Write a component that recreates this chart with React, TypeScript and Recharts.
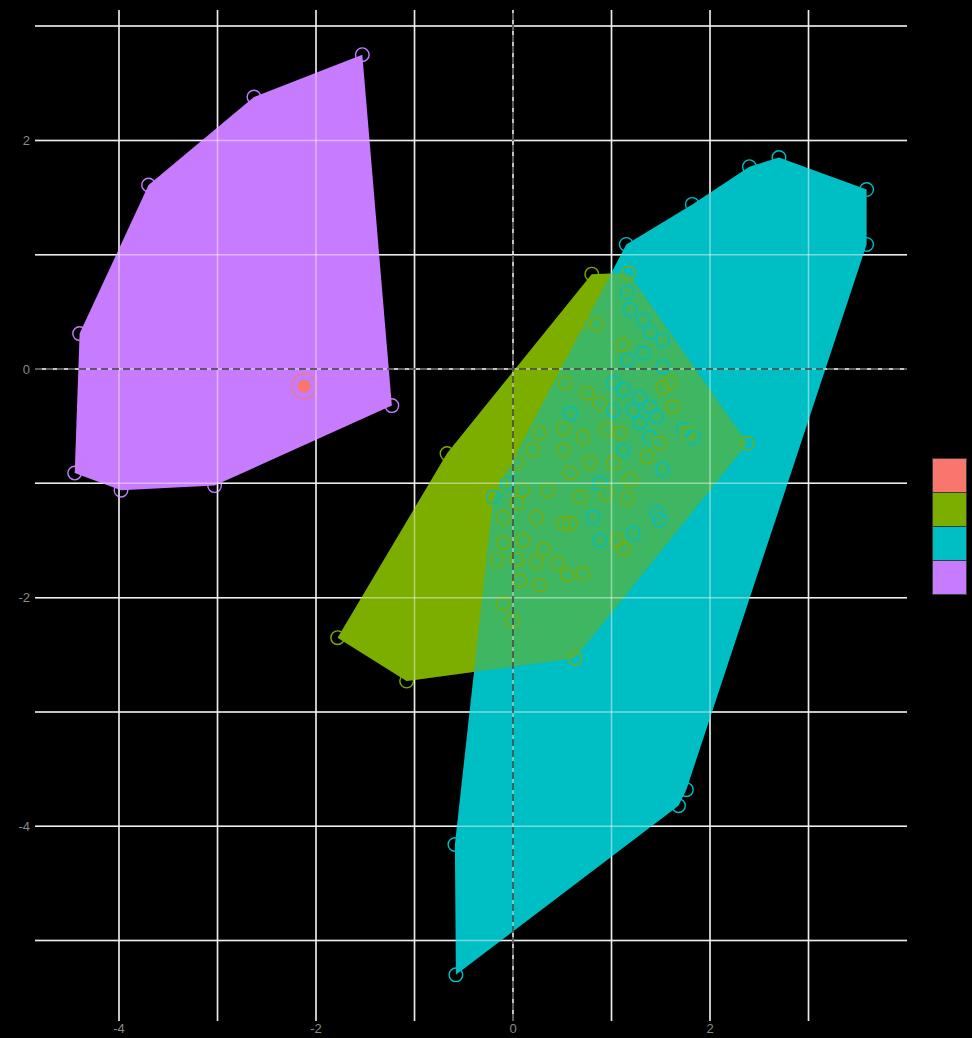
import React from "react";
import {
  ScatterChart,
  Scatter,
  XAxis,
  YAxis,
  CartesianGrid,
  ReferenceLine,
} from "recharts";

type Pt = { x: number; y: number };

// cluster colours (ggplot hue palette)
const clusterColors = ["#F8766D", "#7CAE00", "#00BFC4", "#C77CFF"];

const xTicks = [-4, -3, -2, -1, 0, 1, 2, 3];
const yTicks = [-5, -4, -3, -2, -1, 0, 1, 2, 3];

// cluster 1: a single point
const redPoints: Pt[] = [{ x: -2.12, y: -0.15 }];

// cluster 4 hull (in drawing order) and inner points
const purpleHull: Pt[] = [
  { x: -1.53, y: 2.75 },
  { x: -2.63, y: 2.38 },
  { x: -3.7, y: 1.61 },
  { x: -4.4, y: 0.31 },
  { x: -4.45, y: -0.91 },
  { x: -3.98, y: -1.06 },
  { x: -3.03, y: -1.02 },
  { x: -1.23, y: -0.32 },
];
const purpleInner: Pt[] = [
  { x: -3.2, y: 0.45 },
  { x: -2.6, y: 1.25 },
  { x: -1.9, y: 0.6 },
  { x: -3.6, y: -0.4 },
];

// cluster 2
const greenHull: Pt[] = [
  { x: 0.8, y: 0.83 },
  { x: 1.17, y: 0.84 },
  { x: 2.38, y: -0.65 },
  { x: 0.63, y: -2.53 },
  { x: -1.08, y: -2.73 },
  { x: -1.78, y: -2.35 },
  { x: -0.67, y: -0.74 },
];
const greenInner: Pt[] = [
  { x: 0.53, y: -0.12 }, { x: 0.75, y: -0.21 }, { x: 0.88, y: -0.3 },
  { x: 1.62, y: -0.33 }, { x: 1.52, y: -0.16 }, { x: 1.59, y: -0.12 },
  { x: 0.51, y: -0.52 }, { x: 0.71, y: -0.6 }, { x: 0.95, y: -0.53 },
  { x: 1.09, y: -0.56 }, { x: 1.36, y: -0.77 }, { x: 1.49, y: -0.65 },
  { x: 1.77, y: -0.56 }, { x: 0.27, y: -0.56 }, { x: 0.2, y: -0.71 },
  { x: 0.04, y: -0.82 }, { x: 0.51, y: -0.71 }, { x: 0.78, y: -0.82 },
  { x: 1.02, y: -0.82 }, { x: 1.19, y: -0.97 }, { x: 0.58, y: -0.91 },
  { x: 0.35, y: -1.06 }, { x: 0.1, y: -1.06 }, { x: -0.13, y: -1.0 },
  { x: 0.04, y: -1.17 }, { x: 0.24, y: -1.3 }, { x: 0.51, y: -1.35 },
  { x: 0.68, y: -1.12 }, { x: 0.95, y: -1.09 }, { x: 1.16, y: -1.13 },
  { x: -0.1, y: -1.3 }, { x: -0.1, y: -1.52 }, { x: 0.1, y: -1.5 },
  { x: 0.31, y: -1.58 }, { x: 0.24, y: -1.69 }, { x: 0.45, y: -1.7 },
  { x: 0.55, y: -1.8 }, { x: 0.71, y: -1.79 }, { x: 0.04, y: -1.67 },
  { x: -0.16, y: -1.67 }, { x: 0.07, y: -1.85 }, { x: 0.27, y: -1.89 },
  { x: -0.1, y: -2.05 }, { x: -0.01, y: -2.2 }, { x: 1.06, y: -1.5 },
  { x: 1.12, y: -1.57 }, { x: 0.58, y: -1.35 }, { x: 0.71, y: 0.41 },
  { x: 0.85, y: 0.39 }, { x: 1.11, y: 0.21 },
];

// cluster 3
const cyanHull: Pt[] = [
  { x: 1.15, y: 1.09 },
  { x: 1.82, y: 1.44 },
  { x: 2.4, y: 1.77 },
  { x: 2.7, y: 1.85 },
  { x: 3.59, y: 1.57 },
  { x: 3.59, y: 1.09 },
  { x: 1.76, y: -3.68 },
  { x: 1.68, y: -3.82 },
  { x: -0.58, y: -5.3 },
  { x: -0.59, y: -4.16 },
  { x: -0.2, y: -1.12 },
];
const cyanInner: Pt[] = [
  { x: 1.16, y: 0.67 }, { x: 1.19, y: 0.52 }, { x: 1.32, y: 0.43 },
  { x: 1.39, y: 0.32 }, { x: 1.52, y: 0.25 }, { x: 1.16, y: 0.08 },
  { x: 1.32, y: 0.14 }, { x: 1.52, y: 0.02 }, { x: 1.02, y: -0.12 },
  { x: 1.12, y: -0.18 }, { x: 1.29, y: -0.25 }, { x: 1.39, y: -0.33 },
  { x: 1.22, y: -0.36 }, { x: 1.46, y: -0.42 }, { x: 1.29, y: -0.47 },
  { x: 1.02, y: -0.36 }, { x: 1.73, y: -0.53 }, { x: 1.83, y: -0.6 },
  { x: 1.39, y: -0.6 }, { x: 1.12, y: -0.71 }, { x: 0.88, y: -1.0 },
  { x: 0.81, y: -1.3 }, { x: 0.88, y: -1.5 }, { x: 1.46, y: -1.26 },
  { x: 1.49, y: -1.32 }, { x: 0.58, y: -0.39 }, { x: -0.06, y: -1.0 },
  { x: 1.22, y: -1.44 }, { x: 1.52, y: -0.88 },
];

const X_DOMAIN: [number, number] = [-4.853, 4.0];
const Y_DOMAIN: [number, number] = [-5.704, 3.141];

const AXIS_FONT = "'Liberation Sans', Arial, sans-serif";

// filled convex hull built from the scatter's own pixel points
const hull = (fill: string, opacity = 1) => (props: any) => {
  const pts = (props.points || [])
    .map((p: any) => `${p.x},${p.y}`)
    .join(" ");
  return <polygon points={pts} fill={fill} fillOpacity={opacity} stroke="none" />;
};

const noShape = () => <g />;

const ring = (color: string) => (props: any) => (
  <circle
    cx={props.cx}
    cy={props.cy}
    r={6.8}
    fill="none"
    stroke={color}
    strokeWidth={1.4}
  />
);

const centerDot = (props: any) => (
  <g>
    <circle cx={props.cx} cy={props.cy} r={12.5} fill="none" stroke="#F8766D" strokeOpacity={0.7} strokeWidth={1.6} />
    <circle cx={props.cx} cy={props.cy} r={6.5} fill="#F8766D" />
  </g>
);

const evenLabel = (v: number) => (v % 2 === 0 ? String(v) : "");

export default function App() {
  return (
    <div
      style={{
        position: "absolute",
        left: 0,
        top: 0,
        width: 972,
        height: 1038,
        background: "#000",
        overflow: "hidden",
      }}
    >
      <ScatterChart
        width={972}
        height={1038}
        margin={{ top: 10, right: 65, bottom: 0, left: 0 }}
      >
        <CartesianGrid
          stroke="#dedede"
          strokeWidth={1.5}
          horizontalValues={yTicks}
          verticalValues={xTicks}
        />
        <XAxis
          type="number"
          dataKey="x"
          domain={X_DOMAIN}
          allowDataOverflow
          ticks={xTicks}
          tickFormatter={evenLabel}
          axisLine={false}
          tickLine={false}
          tickSize={0}
          tickMargin={3}
          height={17}
          tick={{ fill: "#8a8a8a", fontSize: 13, fontFamily: AXIS_FONT }}
        />
        <YAxis
          type="number"
          dataKey="y"
          domain={Y_DOMAIN}
          allowDataOverflow
          ticks={yTicks}
          tickFormatter={evenLabel}
          axisLine={false}
          tickLine={false}
          tickSize={0}
          tickMargin={5}
          width={35}
          tick={{ fill: "#8a8a8a", fontSize: 13, fontFamily: AXIS_FONT }}
        />

        {/* hulls: green, cyan, then green again half transparent for the overlap */}
        <Scatter data={purpleHull} line={hull(clusterColors[3])} shape={noShape} isAnimationActive={false} />
        <Scatter data={greenHull} line={hull(clusterColors[1])} shape={noShape} isAnimationActive={false} />
        <Scatter data={cyanHull} line={hull(clusterColors[2])} shape={noShape} isAnimationActive={false} />
        <Scatter data={greenHull} line={hull(clusterColors[1], 0.5)} shape={noShape} isAnimationActive={false} />

        {/* observations */}
        <Scatter data={[...purpleHull, ...purpleInner]} shape={ring(clusterColors[3])} isAnimationActive={false} />
        <Scatter data={[...cyanHull, ...cyanInner]} shape={ring(clusterColors[2])} isAnimationActive={false} />
        <Scatter data={[...greenHull, ...greenInner]} shape={ring(clusterColors[1])} isAnimationActive={false} />
        <Scatter data={redPoints} shape={centerDot} isAnimationActive={false} />

        {/* grid showing through the hulls */}
        {xTicks.map((v) => (
          <ReferenceLine key={`gx${v}`} x={v} stroke="#fff" strokeOpacity={0.45} strokeWidth={1.5} zIndex={700} />
        ))}
        {yTicks.map((v) => (
          <ReferenceLine key={`gy${v}`} y={v} stroke="#fff" strokeOpacity={0.45} strokeWidth={1.5} zIndex={700} />
        ))}
        <ReferenceLine x={0} stroke="#3a3a3a" strokeDasharray="7 4" strokeWidth={1.5} zIndex={710} />
        <ReferenceLine y={0} stroke="#3a3a3a" strokeDasharray="7 4" strokeWidth={1.5} zIndex={710} />
      </ScatterChart>

      {/* legend keys */}
      <div style={{ position: "absolute", left: 932, top: 459 }}>
        {clusterColors.map((c) => (
          <div
            key={c}
            style={{
              width: 33,
              height: 33,
              background: c,
              border: "1px solid #3a3a3a",
              marginTop: -1,
            }}
          />
        ))}
      </div>
    </div>
  );
}
